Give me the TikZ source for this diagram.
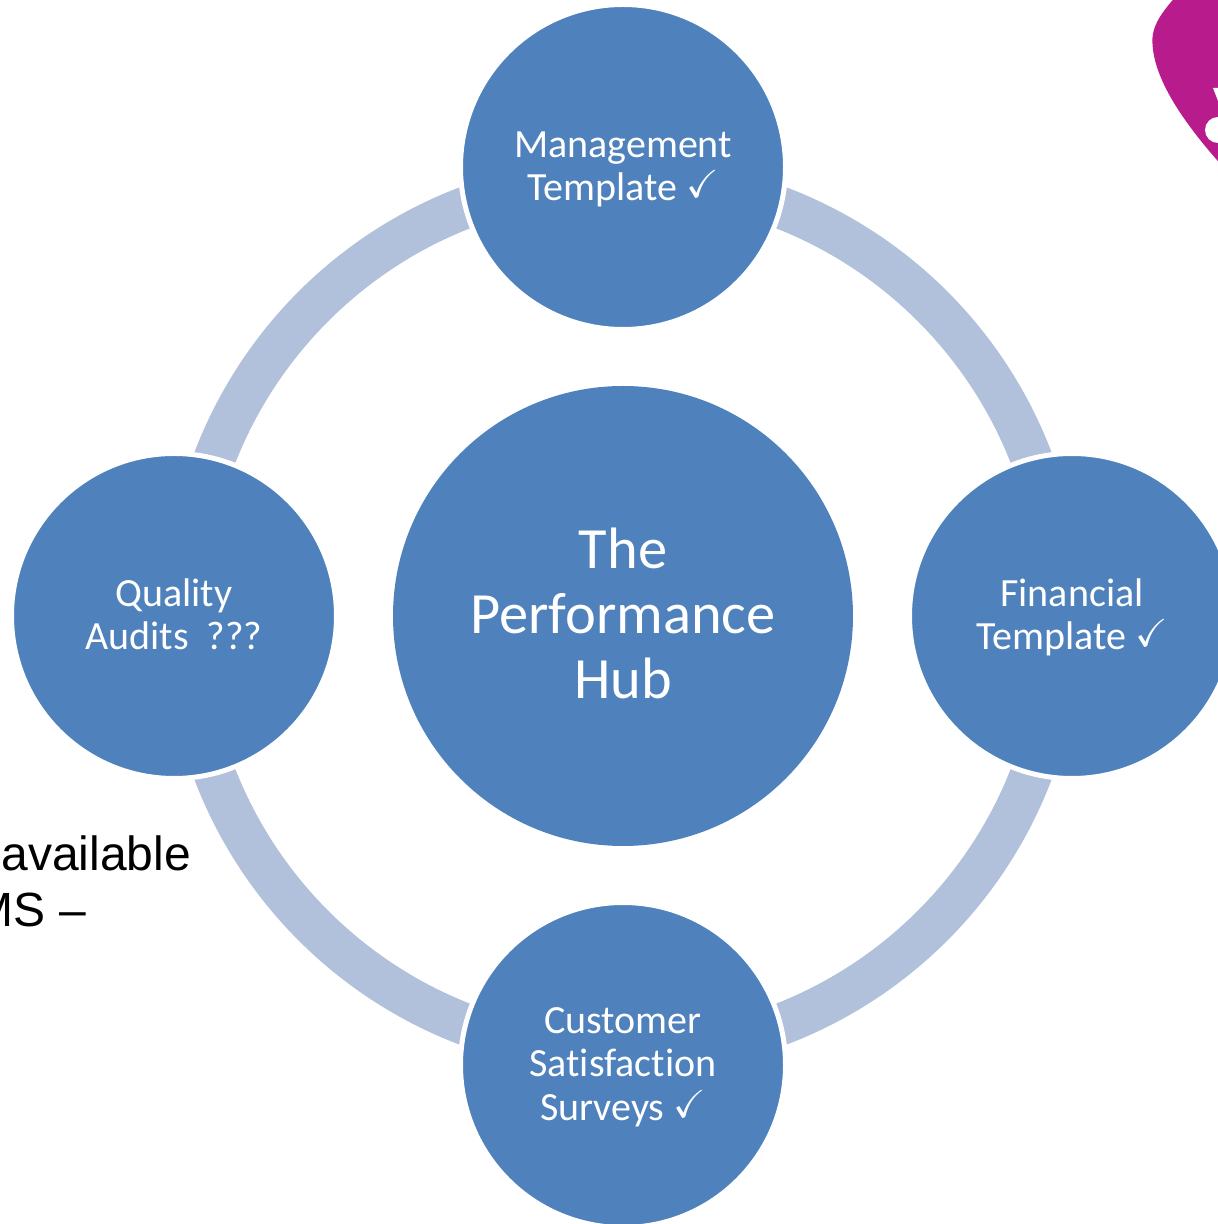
\documentclass[tikz,border=0pt]{standalone}
\usepackage{amssymb}
\usepackage{fontspec}
\setmainfont[Ligatures=NoCommon]{Carlito}
\newfontfamily\armfont{Liberation Sans}
\usepackage{tikz}

\definecolor{hubblue}{HTML}{4F81BD}
\definecolor{ringblue}{HTML}{B2C1DB}
\definecolor{heartpink}{HTML}{B81C8C}

\newcommand{\tickmark}{\raisebox{3pt}{\fontsize{39}{39}\selectfont$\checkmark$}}
% keep the lines at the same height in every circle
\newcommand{\firstline}{\rule{0pt}{39pt}}
\newcommand{\lastline}{\rule[-15pt]{0pt}{15pt}}

\tikzset{
    hubnode/.style={circle, fill=hubblue, text=white, align=center, inner sep=0pt, outer sep=0pt,
        minimum size=460pt, font=\fontsize{58.4}{65}\selectfont},
    spokenode/.style={circle, fill=hubblue, draw=white, line width=5pt, text=white, align=center,
        inner sep=0pt, outer sep=0pt, minimum size=325pt, font=\fontsize{40}{43.5}\selectfont},
    ringline/.style={draw=ringblue, line width=42pt},
    armtext/.style={anchor=base east, inner sep=0pt, font=\armfont\fontsize{48}{55}\selectfont}
}

\begin{document}
\begin{tikzpicture}[x=1pt, y=1pt]
    \useasboundingbox (0,0) rectangle (1218,1224);
    \clip (0,0) rectangle (1218,1224);

    % ring, under the circles
    \coordinate (ringtop) at (623,1045.5);
    \coordinate (ringright) at (1060.5,608);
    \coordinate (ringbottom) at (623,170.5);
    \coordinate (ringleft) at (185.5,608);

    \draw[ringline] (ringtop) to[out=0, in=90] (ringright);
    \draw[ringline] (ringright) to[out=-90, in=0] (ringbottom);
    \draw[ringline] (ringbottom) to[out=180, in=-90] (ringleft);
    \draw[ringline] (ringleft) to[out=90, in=180] (ringtop);

    \node[hubnode] (hub) at (623,608) {The\\Performance\\Hub\rule[-6pt]{0pt}{6pt}};
    \node[spokenode] (management) at (623,1057) {\firstline Management\\Template \tickmark\lastline};
    \node[spokenode] (financial) at (1072,608) {\firstline Financial\\Template \tickmark\lastline};
    \node[spokenode] (surveys) at (623,159) {\firstline Customer\\Satisfaction\\Surveys \tickmark\lastline};
    \node[spokenode] (audits) at (174,608) {\firstline Quality\\Audits\ \ ???\lastline};

    % cut off text on the left
    \node[armtext] (available) at (191,353) {available};
    \node[armtext] (ms) at (86,297) {MS –};

    % corner of the logo
    \fill[heartpink] (1178,1230) .. controls (1162,1212) and (1151,1198) .. (1152.5,1180)
        .. controls (1154,1150) and (1175,1110) .. (1225,1055) -- (1225,1230) -- cycle;
    \fill[white] (1218,1094) circle (13pt);
    \fill[white] (1213,1136) -- (1220,1136) -- (1220,1118) -- cycle;
\end{tikzpicture}
\end{document}
